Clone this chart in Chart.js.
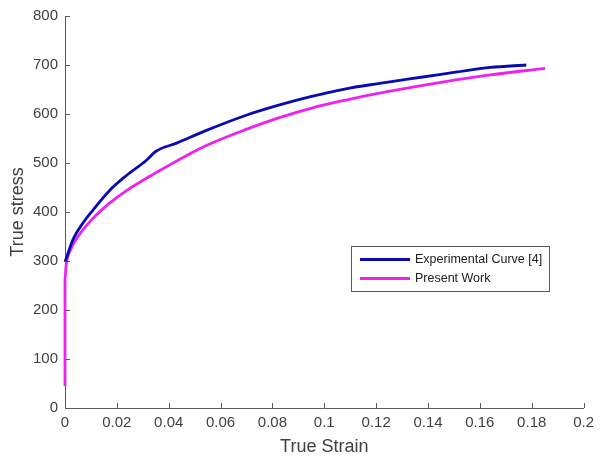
<!DOCTYPE html>
<html>
<head>
<meta charset="utf-8">
<script src="https://cdn.jsdelivr.net/npm/chart.js@4.4.0/dist/chart.umd.min.js"></script>
<style>
html,body{margin:0;padding:0;background:#fff;}
#wrap{width:600px;height:456px;position:relative;}
</style>
</head>
<body>
<div id="wrap"><canvas id="c" width="600" height="456"></canvas></div>
<script>
// Data
const expStrain = [0, 0.0032, 0.007, 0.0108, 0.0172, 0.0236, 0.0313, 0.0351, 0.0428, 0.0543, 0.0696, 0.0824, 0.0951, 0.1079, 0.1207, 0.1386, 0.1513, 0.1641, 0.1779];
const expStress = [298, 345, 378, 404, 444, 474, 505, 524, 540, 566, 597, 618, 636, 651, 662, 676, 686, 695, 700];
const simStrain = [0, 0, 0, 0.0004, 0.0019, 0.0057, 0.0108, 0.0172, 0.0236, 0.0364, 0.0543, 0.0696, 0.0824, 0.0951, 0.1079, 0.1207, 0.1386, 0.1513, 0.1641, 0.1852];
const simStress = [45, 150, 262, 290, 320, 355, 387, 418, 443, 484, 535, 568, 592, 612, 628, 642, 659, 670, 680, 693];
const seriesNames = ['Experimental Curve [4]', 'Present Work'];
const xTicks = [0, 0.02, 0.04, 0.06, 0.08, 0.1, 0.12, 0.14, 0.16, 0.18, 0.2];
const yTicks = [0, 100, 200, 300, 400, 500, 600, 700, 800];

const toXY = (xs, ys) => xs.map((x, i) => ({x: x, y: ys[i]}));
const FONT = "'Liberation Sans', Arial, sans-serif";
const AXIS = '#5a5a5a';
const TXT = '#404040';

const innerTicks = {
  id: 'innerTicks',
  afterDraw(chart) {
    const ctx = chart.ctx;
    const xs = chart.scales.x, ys = chart.scales.y;
    const a = chart.chartArea;
    ctx.save();
    ctx.strokeStyle = AXIS;
    ctx.lineWidth = 1;
    ctx.beginPath();
    xTicks.forEach(v => {
      const p = Math.round(xs.getPixelForValue(v)) + 0.5;
      ctx.moveTo(p, a.bottom);
      ctx.lineTo(p, a.bottom - 5);
    });
    yTicks.forEach(v => {
      const p = Math.round(ys.getPixelForValue(v)) + 0.5;
      ctx.moveTo(a.left, p);
      ctx.lineTo(a.left + 5, p);
    });
    ctx.stroke();
    ctx.restore();
  }
};

const boxLegend = {
  id: 'boxLegend',
  afterDraw(chart) {
    const ctx = chart.ctx;
    const x0 = 351, y0 = 246, w = 198, h = 45;
    ctx.save();
    ctx.fillStyle = '#fff';
    ctx.fillRect(x0, y0, w, h);
    ctx.strokeStyle = '#5a5a5a';
    ctx.lineWidth = 1;
    ctx.strokeRect(x0 + 0.5, y0 + 0.5, w, h);
    ctx.font = '12.5px ' + FONT;
    ctx.textBaseline = 'middle';
    chart.data.datasets.forEach((ds, i) => {
      const yy = y0 + 13.5 + i * 19;
      ctx.strokeStyle = ds.borderColor;
      ctx.lineWidth = 2.8;
      ctx.beginPath();
      ctx.moveTo(x0 + 9, yy);
      ctx.lineTo(x0 + 59, yy);
      ctx.stroke();
      ctx.fillStyle = '#202020';
      ctx.fillText(ds.label, x0 + 64, yy);
    });
    ctx.restore();
  }
};

new Chart(document.getElementById('c'), {
  type: 'line',
  data: {
    datasets: [
      {label: seriesNames[0], data: toXY(expStrain, expStress), borderColor: '#0a0ab4', borderWidth: 2.8, pointRadius: 0, cubicInterpolationMode: 'monotone', fill: false, clip: 4},
      {label: seriesNames[1], data: toXY(simStrain, simStress), borderColor: '#ee22ee', borderWidth: 2.8, pointRadius: 0, cubicInterpolationMode: 'monotone', fill: false, clip: 4}
    ]
  },
  options: {
    responsive: false,
    animation: false,
    layout: {padding: {left: 0, right: 13, top: 15, bottom: 0}},
    plugins: {legend: {display: false}, tooltip: {enabled: false}},
    scales: {
      x: {
        type: 'linear', min: 0, max: 0.2,
        afterBuildTicks: s => { s.ticks = xTicks.map(v => ({value: v})); },
        afterFit: s => { s.height = 48; },
        grid: {display: false, drawTicks: false},
        border: {display: true, color: AXIS, width: 1},
        ticks: {padding: 6, color: TXT, font: {family: FONT, size: 15}, maxRotation: 0, callback: v => String(v)},
        title: {display: true, text: 'True Strain', color: TXT, font: {family: FONT, size: 18, lineHeight: 1}, padding: {top: 0, bottom: 0}}
      },
      y: {
        type: 'linear', min: 0, max: 800,
        afterBuildTicks: s => { s.ticks = yTicks.map(v => ({value: v})); },
        afterFit: s => { s.width = 65; },
        grid: {display: false, drawTicks: false},
        border: {display: true, color: AXIS, width: 1},
        ticks: {padding: 7, color: TXT, font: {family: FONT, size: 15}},
        title: {display: true, text: 'True stress', color: TXT, font: {family: FONT, size: 18, lineHeight: 1}, padding: {top: 9.5, bottom: 0}}
      }
    }
  },
  plugins: [innerTicks, boxLegend]
});
</script>
</body>
</html>
